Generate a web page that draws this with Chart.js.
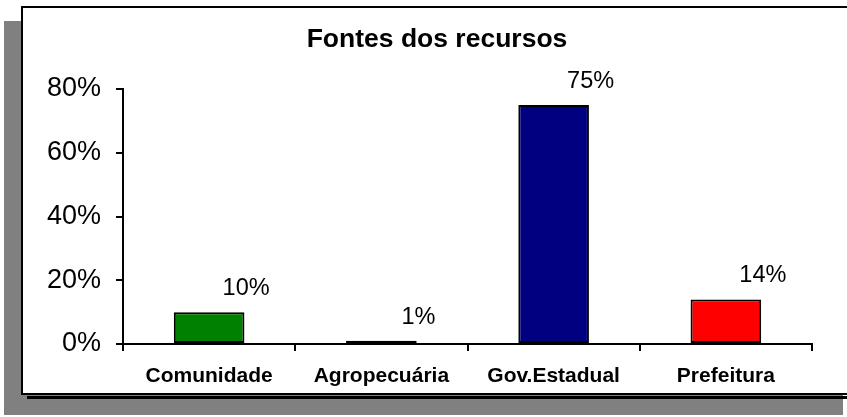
<!DOCTYPE html>
<html>
<head>
<meta charset="utf-8">
<script src="https://cdn.jsdelivr.net/npm/chart.js@4"></script>
<style>
  html, body { margin: 0; padding: 0; width: 847px; height: 417px; overflow: hidden; background: #fff; }
  #shadow { position: absolute; left: 4px; top: 21px; width: 839px; height: 394px; background: #808080; }
  #shadowLine { position: absolute; left: 27px; top: 396px; width: 820px; height: 3px; background: #000; }
  #frame { position: absolute; left: 21px; top: 6px; width: 840px; height: 389px; box-sizing: border-box; border: 2px solid #000; background: #fff; }
  #chart { position: absolute; left: 0; top: 0; }
</style>
</head>
<body>
<div id="shadow"></div>
<div id="shadowLine"></div>
<div id="frame"></div>
<canvas id="chart" width="847" height="417"></canvas>
<script>
// ── Fontes dos recursos ──
const categories = ['Comunidade', 'Agropecuária', 'Gov.Estadual', 'Prefeitura'];
const values = [10, 1, 75, 14];
const yTicks = [0, 20, 40, 60, 80];
const barColors = ['#008000', '#2a0012', '#000080', '#ff0000'];
const titleText = 'Fontes dos recursos';

const FONT = "'Liberation Sans', Arial, sans-serif";

// title centred over the frame (not the canvas), plus value labels right of each bar
const labelsPlugin = {
  id: 'labelsPlugin',
  afterDatasetsDraw(chart) {
    const ctx = chart.ctx;
    const meta = chart.getDatasetMeta(0);
    ctx.save();
    ctx.fillStyle = '#000';
    ctx.textAlign = 'center';
    ctx.textBaseline = 'alphabetic';
    ctx.font = 'bold 26.5px ' + FONT;
    ctx.fillText(titleText, 437, 47);
    ctx.font = '23.5px ' + FONT;
    meta.data.forEach((bar, i) => {
      ctx.fillText(values[i] + '%', bar.x + 37, bar.y - 17);
    });
    ctx.restore();
  }
};

new Chart(document.getElementById('chart').getContext('2d'), {
  type: 'bar',
  data: {
    labels: categories,
    datasets: [{ data: values, backgroundColor: barColors, borderColor: '#000', borderWidth: 2, borderSkipped: false, categoryPercentage: 1, barPercentage: 0.41 }]
  },
  options: {
    responsive: false,
    animation: false,
    devicePixelRatio: 1,
    layout: { padding: { left: 27, right: 35, top: 89, bottom: 0 } },
    plugins: {
      legend: { display: false },
      tooltip: { enabled: false },
      title: { display: false }
    },
    scales: {
      y: {
        min: 0, max: 80,
        afterBuildTicks: s => { s.ticks = yTicks.map(v => ({ value: v })); },
        afterFit: s => { s.width = 96; },
        border: { color: '#000', width: 2 },
        grid: { drawOnChartArea: false, color: '#000', tickColor: '#000', lineWidth: 2, tickLength: 7 },
        ticks: { padding: 15, color: '#000', font: { family: FONT, size: 27 }, callback: v => v + '%' }
      },
      x: {
        afterFit: s => { s.height = 73; },
        border: { color: '#000', width: 2 },
        grid: { offset: true, drawOnChartArea: false, color: '#000', tickColor: '#000', lineWidth: 2, tickLength: 7 },
        ticks: { padding: 13, color: '#000', maxRotation: 0, font: { family: FONT, size: 21, weight: 'bold' } }
      }
    }
  },
  plugins: [labelsPlugin]
});
</script>
</body>
</html>
